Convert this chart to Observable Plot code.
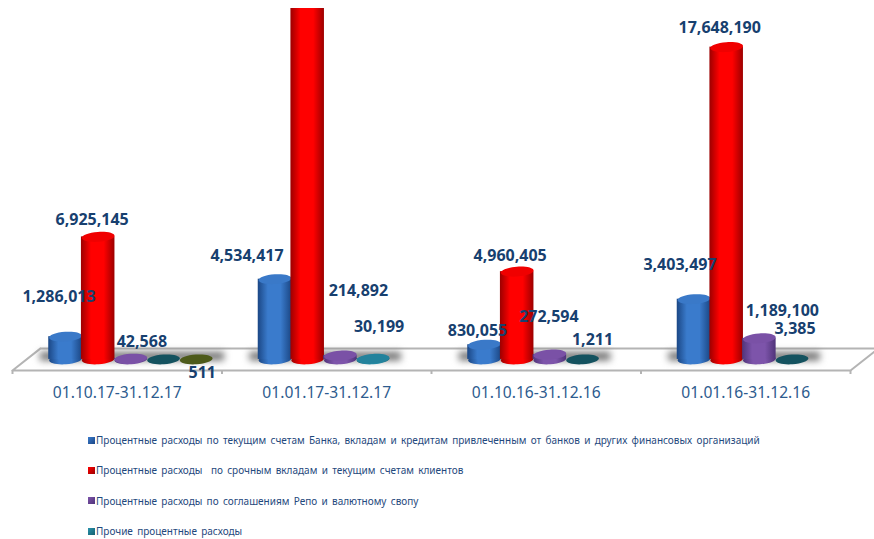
<!DOCTYPE html>
<html lang="ru">
<head>
<meta charset="utf-8">
<script src="https://cdn.jsdelivr.net/npm/d3@7"></script>
<script src="https://cdn.jsdelivr.net/npm/@observablehq/plot@0.6"></script>
<style>
html,body{margin:0;padding:0;background:#fff;overflow:hidden}
#legend{margin:0;padding:15px 0 0 88px;font:10px "Noto Sans",sans-serif;color:#1f497d;word-spacing:1.7px}
#legend div{height:30.3px;line-height:30px;white-space:pre;display:flex;align-items:center}
#legend i{display:inline-block;width:7px;height:7px;margin-right:1px;flex:none}
</style>
</head>
<body>
<div id="chart"></div>
<div id="legend"></div>
<script>
const periods = ["01.10.17-31.12.17", "01.01.17-31.12.17", "01.10.16-31.12.16", "01.01.16-31.12.16"];
const currentAccounts = [1286013, 4534417, 830055, 3403497];
const termDeposits = [6925145, 22000000, 4960405, 17648190]; // second value is cut off in the picture: estimate
const repoSwap = [42568, 214892, 272594, 1189100];
const otherInterest = [0, 30199, 1211, 3385];
const unnamedSeries = [511, null, null, null];
const legendLabels = [
  "Процентные расходы по текущим счетам Банка, вкладам и кредитам привлеченным от банков и других финансовых организаций",
  "Процентные расходы  по срочным вкладам и текущим счетам клиентов",
  "Процентные расходы по соглашениям Репо и валютному свопу",
  "Прочие процентные расходы"
];
const seriesValues = [currentAccounts, termDeposits, repoSwap, otherInterest, unnamedSeries];
const hiddenLabels = [[], [1], [], [0], []];

// hand-placed data label nudges [dx, dy], by series then period
const labelNudges = [
  [[-6.5,-40],[-28,-23],[-7,-14],[-14,-34]],
  [[-6,-17],[0,0],[-7,-16],[-7,-19]],
  [[11,-17],[18,-65],[-1,-38],[23,-28]],
  [[0,0],[6,-32],[10,-20],[3,-31]],
  [[6,13],[0,0],[0,0],[0,0]]
];

const styles = [
  {id:"g0", edge:"#1b4785", mid:"#3a7bcc", top:"#3a79c8", flat:"#2a5fa8"},
  {id:"g1", edge:"#9c0000", mid:"#ff0000", top:"#f00000", flat:"#c00000"},
  {id:"g2", edge:"#50347a", mid:"#7d54aa", top:"#7a51a6", flat:"#5f4189"},
  {id:"g3", edge:"#14606f", mid:"#2a93ad", top:"#23829c", flat:"#14525f"},
  {id:"g4", edge:"#3d4a12", mid:"#66762a", top:"#66762a", flat:"#4d5a1a"}
];

const defs = () => {
  const d = d3.create("svg:defs");
  for (const s of styles) {
    const g = d.append("linearGradient").attr("id", s.id);
    [[0, s.edge], [0.3, s.mid], [0.68, s.mid], [1, s.edge]].forEach(([o, c]) =>
      g.append("stop").attr("offset", o).attr("stop-color", c));
  }
  return d.node();
};

// ellipse used as the cylinder's end faces
const disc = {
  draw(ctx, size) {
    const rx = Math.sqrt(size / Math.PI), ry = rx * 0.3, k = 0.5523;
    ctx.moveTo(-rx, 0);
    ctx.bezierCurveTo(-rx, -ry * k, -rx * k, -ry, 0, -ry);
    ctx.bezierCurveTo(rx * k, -ry, rx, -ry * k, rx, 0);
    ctx.bezierCurveTo(rx, ry * k, rx * k, ry, 0, ry);
    ctx.bezierCurveTo(-rx * k, ry, -rx, ry * k, -rx, 0);
    ctx.closePath();
  }
};

const firstCentre = 0.253, slot = 0.156, half = 0.08;
const depth = 625000, skew = 0.134, tall = 19830000;
const centre = (g, s) => g + firstCentre + slot * s;
const visibleBody = 10000;

const rows = seriesValues.map((vals, s) =>
  vals.map((value, g) => ({g, s, value, x: centre(g, s)})).filter(d => d.value != null));
const floorColor = "#b4b4b4";
const shadows = periods.map((_, g) => {
  const n = seriesValues.filter(v => v[g] != null).length;
  return {x1: centre(g, 0) - 0.12, x2: centre(g, n - 1) + 0.135};
});

const marks = [
  defs,
  Plot.line([[skew, depth], [4 + skew, depth], [4, -depth], [0, -depth], [skew, depth]],
    {stroke: floorColor, strokeWidth: 2}),
  Plot.rect(shadows, {x1: "x1", x2: "x2", y1: -90000, y2: 400000, fill: "#757575", imageFilter: "blur(3.5px)"}),
  Plot.axisX({ticks: [0, 1, 2, 3, 4], tickSize: 4, tickFormat: () => "", stroke: floorColor, strokeWidth: 2}),
  Plot.axisX({ticks: periods.map((_, i) => i + 0.5), tickSize: 0, tickPadding: 16,
    tickFormat: d => periods[d - 0.5], color: "#2d5b8e", fontSize: 15.6})
];

rows.forEach((data, s) => {
  const st = styles[s];
  const fill = `url(#${st.id})`;
  const tall_ = data.filter(d => d.value >= visibleBody);
  const flat = data.filter(d => d.value < visibleBody);
  const baseDot = {x: "x", y: () => 0, symbol: disc, r: 16.4, rotate: -4, clip: true};
  marks.push(
    Plot.dot(flat, {...baseDot, fill: st.flat}),
    Plot.dot(tall_, {...baseDot, fill}),
    Plot.rect(tall_, {x1: d => d.x - half, x2: d => d.x + half, y1: 0, y2: "value", fill, clip: true}),
    Plot.dot(tall_, {...baseDot, y: "value", fill: st.top})
  );
});

seriesValues.forEach((vals, s) => vals.forEach((value, g) => {
  if (value == null || hiddenLabels[s].includes(g)) return;
  const [dx, dy] = labelNudges[s][g];
  marks.push(Plot.text([{value, x: centre(g, s)}], {
    x: "x", y: "value", text: d => d3.format(",")(d.value), dx, dy,
    fill: "#17406f", fontWeight: 700, fontSize: 16
  }));
}));

const plot = Plot.plot({
  width: 874, height: 410,
  marginLeft: 12, marginRight: 24, marginTop: 8, marginBottom: 40,
  style: {fontFamily: '"Noto Sans", sans-serif', background: "#fff", overflow: "visible"},
  x: {domain: [0, 4], axis: null},
  y: {domain: [-depth, tall], axis: null},
  marks
});
document.getElementById("chart").appendChild(plot);

const legend = d3.select("#legend");
legendLabels.forEach((t, i) => {
  const row = legend.append("div");
  row.append("i").style("background", `linear-gradient(135deg, ${styles[i].mid}, ${styles[i].edge})`);
  row.append("span").text(t);
});
</script>
</body>
</html>
